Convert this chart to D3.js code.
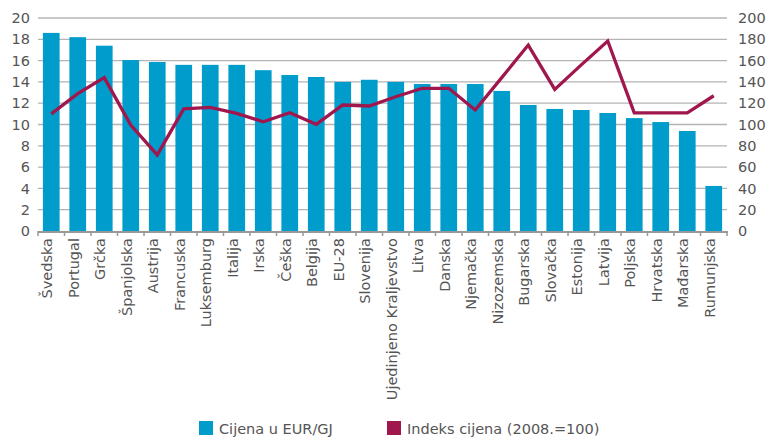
<!DOCTYPE html>
<html>
<head>
<meta charset="utf-8">
<script src="https://cdn.jsdelivr.net/npm/d3@7"></script>
<style>
  body { margin: 0; background: #fff; }
  text { font-family: "DejaVu Sans", sans-serif; fill: #555; }
</style>
</head>
<body>
<main></main>
<script>
const countries = ["Švedska","Portugal","Grčka","Španjolska","Austrija","Francuska","Luksemburg","Italija","Irska","Češka","Belgija","EU-28","Slovenija","Ujedinjeno Kraljevstvo","Litva","Danska","Njemačka","Nizozemska","Bugarska","Slovačka","Estonija","Latvija","Poljska","Hrvatska","Mađarska","Rumunjska"];
const prices = [18.6,18.2,17.4,16.05,15.87,15.6,15.6,15.6,15.1,14.65,14.46,14.0,14.2,14.0,13.8,13.8,13.8,13.15,11.83,11.46,11.36,11.08,10.6,10.23,9.39,4.23];
const priceIndex = [110,129,144,99.5,71.5,114.6,116,110.5,102.6,111,100.2,118.3,117.4,126,134,134,113.6,144,174.6,133,156,178.4,111,111,111,127];
const leftTicks = [0,2,4,6,8,10,12,14,16,18,20];
const rightTicks = [0,20,40,60,80,100,120,140,160,180,200];
const legendItems = ["Cijena u EUR/GJ","Indeks cijena (2008.=100)"];

const w = 771, h = 439;
const pLeft = 38, pRight = 727, pTop = 18, pBottom = 231;
const barColor = "#009ccb", lineColor = "#a0174e";
const fontSize = "14.5px";

const svg = d3.select("main").append("svg")
  .attr("width", w).attr("height", h);

const x = d3.scaleBand().domain(countries).range([pLeft, pRight]).paddingInner(0.37).paddingOuter(0.185);
const yL = d3.scaleLinear().domain([0, 20]).range([pBottom, pTop]);
const yR = d3.scaleLinear().domain([0, 200]).range([pBottom, pTop]);

// grid
svg.append("g").selectAll("line")
  .data(leftTicks.filter(d => d > 0))
  .enter().append("line")
  .attr("x1", pLeft).attr("x2", pRight)
  .attr("y1", d => yL(d)).attr("y2", d => yL(d))
  .attr("stroke", "#b4b4b4").attr("stroke-width", 1.3);

// axis labels
const yAxisL = d3.axisLeft(yL).tickValues(leftTicks).tickSize(0).tickPadding(8);
svg.append("g").attr("transform", `translate(${pLeft},0)`).call(yAxisL)
  .call(g => g.select(".domain").remove())
  .selectAll("text").style("font-size", fontSize).style("font-family", "'DejaVu Sans', sans-serif").attr("fill", "#555");

const yAxisR = d3.axisRight(yR).tickValues(rightTicks).tickSize(0).tickPadding(11);
svg.append("g").attr("transform", `translate(${pRight},0)`).call(yAxisR)
  .call(g => g.select(".domain").remove())
  .selectAll("text").style("font-size", fontSize).style("font-family", "'DejaVu Sans', sans-serif").attr("fill", "#555");

// bars
svg.append("g").selectAll("rect")
  .data(countries)
  .enter().append("rect")
  .attr("x", d => x(d))
  .attr("width", x.bandwidth())
  .attr("y", (d, i) => yL(prices[i]))
  .attr("height", (d, i) => yL(0) - yL(prices[i]))
  .attr("fill", barColor);

// bottom axis
svg.append("line")
  .attr("x1", pLeft).attr("x2", pRight + 1)
  .attr("y1", pBottom + 1).attr("y2", pBottom + 1)
  .attr("stroke", "#999").attr("stroke-width", 2);
const step = x.step();
svg.append("g").selectAll("line")
  .data(d3.range(countries.length + 1))
  .enter().append("line")
  .attr("x1", i => x(countries[0]) - x.paddingInner() * step / 2 + i * step)
  .attr("x2", i => x(countries[0]) - x.paddingInner() * step / 2 + i * step)
  .attr("y1", pBottom).attr("y2", pBottom + 5)
  .attr("stroke", "#999").attr("stroke-width", 1.5);

svg.append("g").selectAll("text")
  .data(countries)
  .enter().append("text")
  .attr("transform", d => `translate(${x(d) + x.bandwidth() / 2 + 1},${pBottom + 7}) rotate(-90)`)
  .attr("text-anchor", "end")
  .style("font-size", fontSize)
  .text(d => d);

// line
const line = d3.line()
  .x((d, i) => x(countries[i]) + x.bandwidth() / 2)
  .y(d => yR(d));
svg.append("path")
  .datum(priceIndex)
  .attr("d", line)
  .attr("fill", "none")
  .attr("stroke", lineColor)
  .attr("stroke-width", 3.3)
  .attr("stroke-linejoin", "miter");

// legend
const legend = svg.append("g").attr("transform", "translate(199,421)");
const lx = [0, 188];
legendItems.forEach((t, i) => {
  legend.append("rect").attr("x", lx[i]).attr("y", 0).attr("width", 14).attr("height", 14)
    .attr("fill", i === 0 ? barColor : lineColor);
  legend.append("text").attr("x", lx[i] + 20).attr("y", 12.5)
    .style("font-size", fontSize).text(t);
});
</script>
</body>
</html>
